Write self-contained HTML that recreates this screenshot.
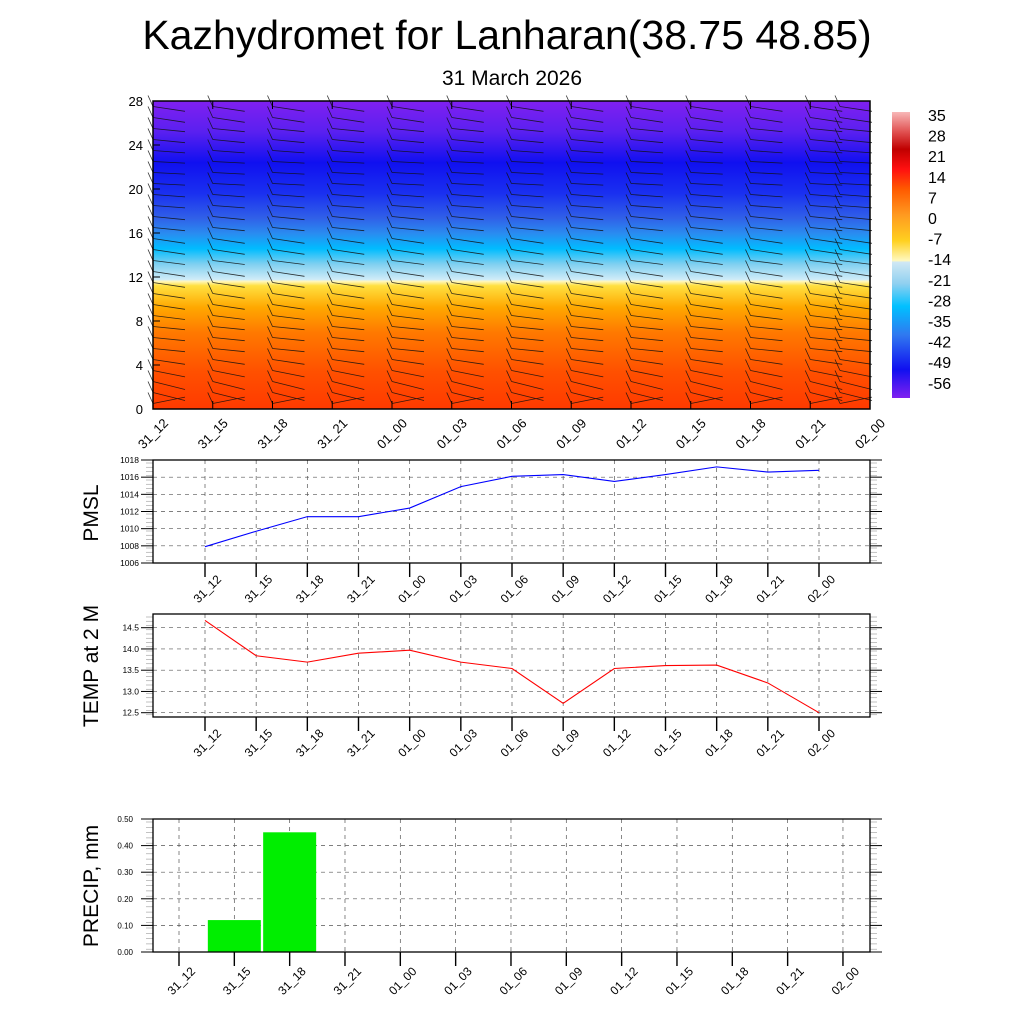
<!DOCTYPE html>
<html><head><meta charset="utf-8"><style>
html,body{margin:0;padding:0;background:#fff}
svg{display:block;font-family:"Liberation Sans",sans-serif}
</style></head><body>
<svg id="s" width="1024" height="1024" viewBox="0 0 1024 1024" xmlns="http://www.w3.org/2000/svg">
<defs>
<linearGradient id="tg" x1="0" y1="1" x2="0" y2="0">
<stop offset="0" stop-color="#ff3a00"/><stop offset="0.12" stop-color="#ff5000"/>
<stop offset="0.25" stop-color="#ff7a00"/><stop offset="0.33" stop-color="#ffa800"/>
<stop offset="0.40" stop-color="#ffe040"/><stop offset="0.415" stop-color="#fff8c0"/>
<stop offset="0.42" stop-color="#d0ecf8"/><stop offset="0.47" stop-color="#80d0f0"/>
<stop offset="0.52" stop-color="#00bcff"/><stop offset="0.57" stop-color="#2a8cf0"/>
<stop offset="0.62" stop-color="#3060e8"/><stop offset="0.70" stop-color="#1a30f0"/>
<stop offset="0.80" stop-color="#1010f0"/><stop offset="0.90" stop-color="#5a20f0"/>
<stop offset="1" stop-color="#8020f0"/></linearGradient>
<linearGradient id="cg" x1="0" y1="0" x2="0" y2="1">
<stop offset="0" stop-color="#f8b8b8"/><stop offset="0.07" stop-color="#e05050"/>
<stop offset="0.13" stop-color="#c00000"/><stop offset="0.2" stop-color="#ff1010"/>
<stop offset="0.27" stop-color="#ff5a00"/><stop offset="0.36" stop-color="#ff9a20"/>
<stop offset="0.45" stop-color="#ffd020"/><stop offset="0.52" stop-color="#fff8c0"/>
<stop offset="0.525" stop-color="#d0e8f4"/><stop offset="0.6" stop-color="#90d0f0"/>
<stop offset="0.68" stop-color="#00c0ff"/><stop offset="0.78" stop-color="#3078f0"/>
<stop offset="0.9" stop-color="#1010f0"/><stop offset="1" stop-color="#8020f0"/></linearGradient>
</defs>
<text x="507" y="49" font-size="41" text-anchor="middle">Kazhydromet for Lanharan(38.75 48.85)</text>
<text x="512" y="85" font-size="21" text-anchor="middle">31 March 2026</text>
<rect x="153" y="101" width="717" height="308" fill="url(#tg)"/>
<g id="barbs" stroke="#111" stroke-width="0.8" fill="none" opacity="0.85"></g>
<rect x="153" y="101" width="717" height="308" fill="none" stroke="#000" stroke-width="1.5"/>
<rect x="892" y="112" width="18" height="286" fill="url(#cg)"/>
<g id="g"></g>
</svg>
<script>
const times=["31_12","31_15","31_18","31_21","01_00","01_03","01_06","01_09","01_12","01_15","01_18","01_21","02_00"];
const heightTicks=[0,4,8,12,16,20,24,28];
const cbarLabels=[35,28,21,14,7,0,-7,-14,-21,-28,-35,-42,-49,-56];
const pmsl=[1007.9,1009.7,1011.4,1011.4,1012.4,1014.9,1016.1,1016.3,1015.5,1016.3,1017.2,1016.6,1016.8];
const pmslTicks=[1006,1008,1010,1012,1014,1016,1018];
const temp=[14.67,13.84,13.69,13.9,13.97,13.69,13.54,12.72,13.54,13.61,13.62,13.2,12.5];
const tempTicks=[12.5,13.0,13.5,14.0,14.5];
const precip=[0,0.12,0.45,0,0,0,0,0,0,0,0,0,0];
const precipTicks=[0,0.1,0.2,0.3,0.4,0.5];
const barbSlope=[-0.4,0.5,0.5,0.4,0.3,0.2,0.2,0.2,0.25,0.3,0.3,0.3,0.3,0.25,0.3,0.3,0.2,0.2,0.15,0.15,0.1,0.1,0.1,0.15,0.2,0.2,0.3,0.3];

const NS="http://www.w3.org/2000/svg";
const G=document.getElementById('g');
function el(t,a,p){const e=document.createElementNS(NS,t);for(const k in a)e.setAttribute(k,a[k]);(p||G).appendChild(e);return e;}
function txt(x,y,s,fs,anchor,rot,parent){const e=el('text',{x:x,y:y,'font-size':fs,'text-anchor':anchor||'start'},parent);if(rot)e.setAttribute('transform',`rotate(${rot} ${x} ${y})`);e.textContent=s;return e;}

const tx=i=>153+i*(717/12), ty=v=>409-v*(308/28);
heightTicks.forEach(v=>{const t=txt(143,ty(v)+5,String(v),13,'end');


el('line',{x1:153,x2:160,y1:ty(v),y2:ty(v),stroke:'#000'});});
times.forEach((s,i)=>{const x=tx(i);el('line',{x1:x,x2:x,y1:409,y2:401,stroke:'#000'});el('line',{x1:x,x2:x,y1:101,y2:109,stroke:'#000'});
const t=txt(x+16,424,s,13,'end',-45);

});
const B=document.getElementById('barbs');
times.forEach((s,i)=>{for(let j=0;j<28;j++){const x=tx(i)+(i==12?-30:0),y=ty(j+0.5);const sl=barbSlope[j];
el('line',{x1:x-5,y1:y-11,x2:x,y2:y},B);el('line',{x1:x,y1:y,x2:x+32,y2:y+32*sl*0.5},B);}});
cbarLabels.forEach((v,k)=>{const t=txt(928,121+k*20.6,String(v),16);

});

function panel(top,bot,ticks,vals,color,title,titleY,fmt,name){
 const L=153,R=870,x=i=>205+i*(614/12);
 const y0=ticks[0],y1=ticks[ticks.length-1];
 const yy=v=>bot-(v-y0)/(y1-y0)*(bot-top);
 const ya=name==='temp'?(v=>712.7-(v-12.5)*42.5):yy;
 ticks.forEach(v=>{const Y=ya(v);el('line',{x1:L,x2:R,y1:Y,y2:Y,stroke:'#555','stroke-width':0.7,'stroke-dasharray':'4 4'});
  el('line',{x1:L-12,x2:L,y1:Y,y2:Y,stroke:'#000'});el('line',{x1:R,x2:R+12,y1:Y,y2:Y,stroke:'#000'});
  const t=txt(L-14,Y+3,fmt(v),8.5,'end');
  
  });
 for(let Y=top+3;Y<bot;Y+=4.25){el('line',{x1:L-7,x2:L,y1:Y,y2:Y,stroke:'#999','stroke-width':0.6});el('line',{x1:R,x2:R+7,y1:Y,y2:Y,stroke:'#999','stroke-width':0.6});}
 times.forEach((s,i)=>{const X=x(i);el('line',{x1:X,x2:X,y1:top,y2:bot,stroke:'#555','stroke-width':0.7,'stroke-dasharray':'4 4'});
  el('line',{x1:X,x2:X,y1:bot,y2:bot+14,stroke:'#000','stroke-width':1.4});
  const t=txt(X+17,bot+17,s,12,'end',-45);
  
  });
 const fr=el('rect',{x:L,y:top,width:R-L,height:bot-top,fill:'none',stroke:'#000','stroke-width':1.3});
 
 
 const pl=el('polyline',{points:vals.map((v,i)=>x(i)+','+ya(v)).join(' '),fill:'none',stroke:color,'stroke-width':1.1});
 
 
 const t=txt(98,titleY,title,21,'middle',-90);
 
 
}
panel(460,563,pmslTicks,pmsl,'#0000ff','PMSL',513,v=>String(v),'pmsl');
panel(614,717,tempTicks,temp,'#ff0000','TEMP at 2 M',666,v=>v.toFixed(1),'temp');

(function(){const L=153,R=870,top=819,bot=952,x=i=>179+i*55.33,yy=v=>bot-v/0.5*(bot-top);
 precipTicks.forEach(v=>{const Y=yy(v);el('line',{x1:L,x2:R,y1:Y,y2:Y,stroke:'#555','stroke-width':0.7,'stroke-dasharray':'4 4'});
  el('line',{x1:L-12,x2:L,y1:Y,y2:Y,stroke:'#000'});el('line',{x1:R,x2:R+12,y1:Y,y2:Y,stroke:'#000'});
  const t=txt(L-20,Y+3,v.toFixed(2),8,'end');
  
  });
 for(let Y=top+3;Y<bot;Y+=5.3){el('line',{x1:L-7,x2:L,y1:Y,y2:Y,stroke:'#999','stroke-width':0.6});el('line',{x1:R,x2:R+7,y1:Y,y2:Y,stroke:'#999','stroke-width':0.6});}
 times.forEach((s,i)=>{const X=x(i);el('line',{x1:X,x2:X,y1:top,y2:bot,stroke:'#555','stroke-width':0.7,'stroke-dasharray':'4 4'});
  el('line',{x1:X,x2:X,y1:bot,y2:bot+14,stroke:'#000','stroke-width':1.4});
  const t=txt(X+17,bot+20,s,12,'end',-45);
  
  });
 precip.forEach((v,i)=>{if(v>0){const r=el('rect',{x:x(i)-26.5,y:yy(v),width:53,height:bot-yy(v),fill:'#00ee00'});
  
  }});
 const fr=el('rect',{x:L,y:top,width:R-L,height:bot-top,fill:'none',stroke:'#000','stroke-width':1.3});
 
 
 const t=txt(98,886,'PRECIP, mm',21,'middle',-90);
 
 
})();
</script>
</body></html>
